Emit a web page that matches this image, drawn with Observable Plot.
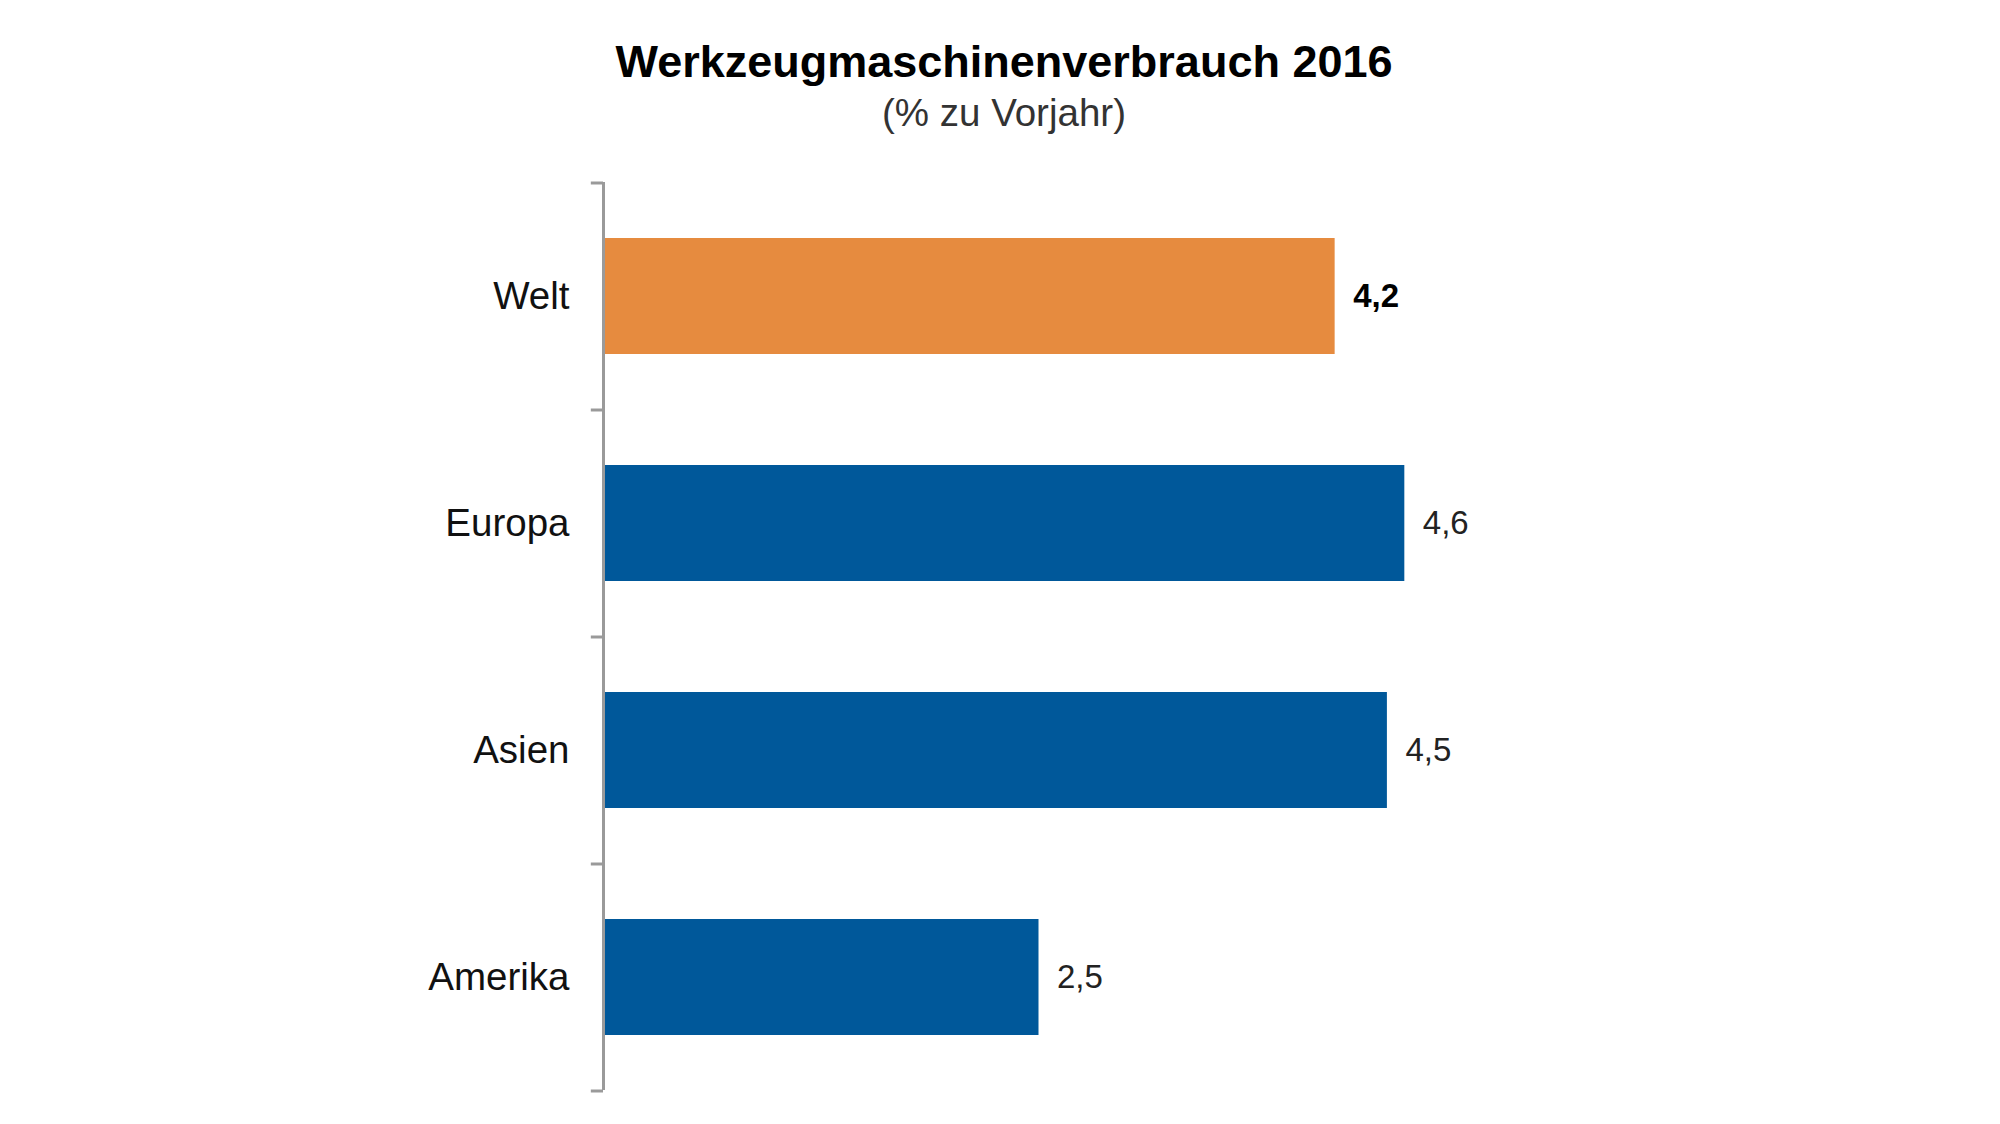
<!DOCTYPE html>
<html lang="de">
<head>
<meta charset="utf-8">
<title>Werkzeugmaschinenverbrauch 2016</title>
<script src="https://cdn.jsdelivr.net/npm/d3@7"></script>
<script src="https://cdn.jsdelivr.net/npm/@observablehq/plot@0.6"></script>
<style>
  html, body { margin: 0; padding: 0; background: #fff; }
  body { width: 2000px; height: 1124px; position: relative; overflow: hidden; font-family: "Liberation Sans", Arial, sans-serif; }
  .header { position: relative; width: 2000px; height: 150px; }
  .title { position: absolute; left: 0; width: 2008px; top: 39px; text-align: center; font-size: 45px; line-height: 45px; font-weight: bold; color: #000; }
  .subtitle { position: absolute; left: 0; width: 2008px; top: 94px; text-align: center; font-size: 38.5px; line-height: 38px; color: #333; }
  #chart svg { display: block; }
</style>
</head>
<body>
<div class="header">
  <div class="title">Werkzeugmaschinenverbrauch 2016</div>
  <div class="subtitle">(% zu Vorjahr)</div>
</div>
<div id="chart"></div>
<script>
// Regionen und Veränderung des Verbrauchs gegenüber dem Vorjahr (%)
const regions = ["Welt", "Europa", "Asien", "Amerika"];
const changes = [4.2, 4.6, 4.5, 2.5];
const highlight = "Welt";

const data = regions.map((region, i) => ({region, value: changes[i]}));
const isHighlight = d => d.region === highlight;

const width = 2000;
const height = 974;
const marginTop = 32;
const marginBottom = 34;
const step = (height - marginTop - marginBottom) / regions.length;

const fmt = v => v.toLocaleString("de-DE", {minimumFractionDigits: 1, maximumFractionDigits: 1});
const axisGrey = "#9a9a9a";

const valueLabel = {
  y: "region",
  x: "value",
  text: d => fmt(d.value),
  dx: 18,
  textAnchor: "start",
  fontSize: 33
};

const chart = Plot.plot({
  width,
  height,
  marginTop,
  marginBottom,
  marginLeft: 603,
  marginRight: 526,
  style: {fontFamily: "'Liberation Sans', Arial, sans-serif", background: "#fff"},
  x: {domain: [0, 5], axis: null},
  y: {domain: regions, paddingInner: 0.49, paddingOuter: 0.245, label: null},
  marks: [
    Plot.barX(data, {
      y: "region",
      x: "value",
      fill: d => isHighlight(d) ? "#E68B3F" : "#00589A",
      insetLeft: 1.5
    }),
    // Achsenlinie
    Plot.ruleX([0], {stroke: axisGrey, strokeWidth: 3}),
    // Teilstriche an den Kategoriegrenzen
    Plot.ruleY(regions, {y: d => d, x1: -0.07, x2: 0, dy: -step / 2, stroke: axisGrey, strokeWidth: 3}),
    Plot.ruleY(regions.slice(-1), {y: d => d, x1: -0.07, x2: 0, dy: step / 2, stroke: axisGrey, strokeWidth: 3}),
    Plot.axisY({
      tickSize: 0,
      tickPadding: 34,
      fontSize: 38.5,
      fill: "#111",
      label: null
    }),
    // Wertbeschriftungen: Welt fett, Regionen normal
    Plot.text(data.filter(isHighlight), {...valueLabel, fill: "#000", fontWeight: "bold"}),
    Plot.text(data.filter(d => !isHighlight(d)), {...valueLabel, fill: "#222"})
  ]
});

document.getElementById("chart").append(chart);
</script>
</body>
</html>
